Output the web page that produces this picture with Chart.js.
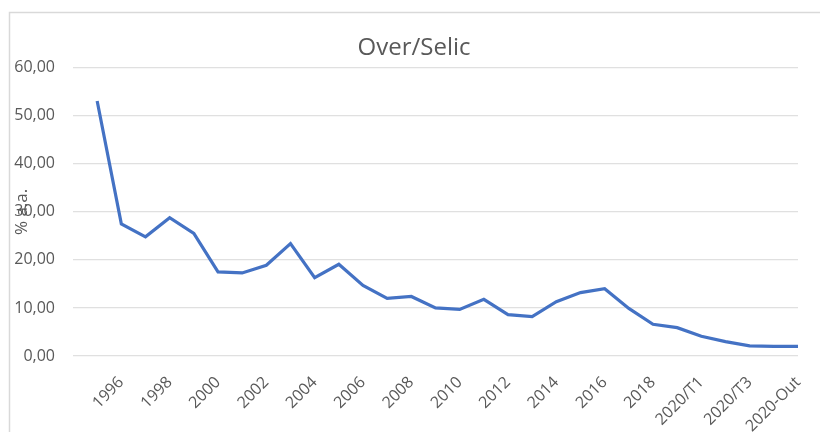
<!DOCTYPE html>
<html>
<head>
<meta charset="utf-8">
<script src="https://cdn.jsdelivr.net/npm/chart.js@4.4.1/dist/chart.umd.min.js"></script>
<style>
  html, body { margin: 0; padding: 0; background: #ffffff; }
  #wrap { position: relative; width: 820px; height: 432px; }
</style>
</head>
<body>
<div id="wrap"><canvas id="c" width="820" height="432"></canvas></div>
<script>
// ---- data ----
const chartTitle = "Over/Selic";
const yAxisTitle = "% a.a.";
const categories = ["", "1995", "1996", "1997", "1998", "1999", "2000", "2001", "2002", "2003", "2004",
  "2005", "2006", "2007", "2008", "2009", "2010", "2011", "2012", "2013", "2014",
  "2015", "2016", "2017", "2018", "2019", "2020/T1", "2020/T2", "2020/T3", "2020-Set", "2020-Out"];
const selicValues = [null, 53.1, 27.5, 24.8, 28.8, 25.5, 17.5, 17.3, 18.9, 23.4, 16.3,
  19.1, 14.7, 12.0, 12.4, 10.0, 9.7, 11.8, 8.6, 8.2, 11.3,
  13.2, 14.0, 9.9, 6.6, 5.9, 4.1, 3.0, 2.1, 2.0, 2.0];
const yTickValues = [0, 10, 20, 30, 40, 50, 60];

const fontFamily = "'Open Sans', 'Liberation Sans', sans-serif";
const textColor = "#595959";
const gridColor = "#d9d9d9";

const frame = {
  id: 'frame',
  beforeDraw(chart) {
    const ctx = chart.ctx;
    ctx.save();
    ctx.fillStyle = '#ffffff';
    ctx.fillRect(0, 0, chart.width, chart.height);
    ctx.strokeStyle = gridColor;
    ctx.lineWidth = 1.5;
    ctx.beginPath();
    ctx.moveTo(9.5, chart.height + 5);
    ctx.lineTo(9.5, 12.5);
    ctx.lineTo(chart.width + 5, 12.5);
    ctx.stroke();
    ctx.restore();
  }
};

new Chart(document.getElementById('c'), {
  type: 'line',
  data: {
    labels: categories,
    datasets: [{
      label: chartTitle,
      data: selicValues,
      borderColor: '#4472C4',
      backgroundColor: '#4472C4',
      borderWidth: 3.2,
      pointRadius: 0,
      pointHoverRadius: 0,
      tension: 0,
      fill: false
    }]
  },
  options: {
    responsive: false,
    animation: false,
    layout: { padding: { left: 10, right: 2, top: 14, bottom: 0 } },
    plugins: {
      legend: { display: false },
      tooltip: { enabled: false },
      title: {
        display: true,
        text: chartTitle,
        color: textColor,
        font: { family: fontFamily, size: 24, weight: 'normal' },
        padding: { top: 20, bottom: 5 }
      }
    },
    scales: {
      x: {
        type: 'category',
        offset: false,
        grid: { display: false, drawTicks: false },
        border: { display: false },
        ticks: {
          autoSkip: false,
          minRotation: 45,
          maxRotation: 45,
          padding: 17,
          color: textColor,
          font: { family: fontFamily, size: 16 },
          callback: function (val, idx) { return idx % 2 === 0 ? this.getLabelForValue(val) : ''; }
        },
        afterFit: (s) => { s.height = 76; s.paddingRight = 0; s.paddingLeft = 0; }
      },
      y: {
        position: 'left',
        min: 0,
        max: 60,
        afterBuildTicks: (s) => { s.ticks = yTickValues.map(v => ({ value: v })); },
        grid: { color: '#e0e0e0', lineWidth: 1.2, drawTicks: false },
        border: { display: false },
        ticks: {
          padding: 18,
          color: textColor,
          font: { family: fontFamily, size: 16 },
          callback: (v) => v.toFixed(2).replace('.', ',')
        },
        title: {
          display: true,
          text: yAxisTitle,
          color: textColor,
          font: { family: fontFamily, size: 17 },
          padding: { top: 2, bottom: 0 }
        },
        afterFit: (s) => { s.width = 63; }
      },
      yRight: {
        position: 'right',
        display: true,
        min: 0,
        max: 60,
        grid: { display: false, drawTicks: false },
        border: { display: false },
        ticks: { display: false },
        afterFit: (s) => { s.width = 20; }
      }
    }
  },
  plugins: [frame]
});
</script>
</body>
</html>
